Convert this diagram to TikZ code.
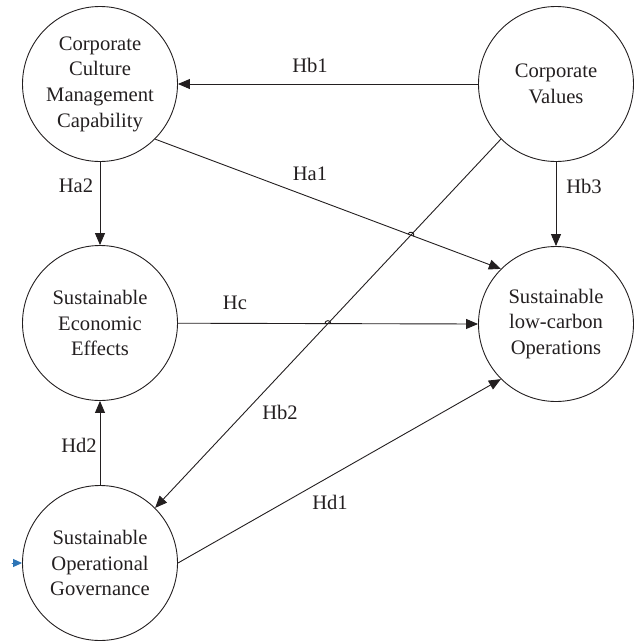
\documentclass[tikz,border=0pt]{standalone}
\usepackage{fontspec}
\setmainfont{Liberation Serif}
\usepackage{tikz}
\usetikzlibrary{arrows.meta}
\usetikzlibrary{intersections}
\definecolor{inkblack}{RGB}{35,31,32}
\definecolor{markblue}{RGB}{46,117,182}

\begin{document}
\begin{tikzpicture}[line cap=round,line join=round,>={Triangle[length=12pt,width=10pt]},x=1pt,y=1pt,
  construct/.style={circle,draw=inkblack,line width=0.9pt,minimum size=155pt,inner sep=0pt,align=center,
    font=\fontsize{20.6}{25.7}\selectfont,text=inkblack},
  hyp/.style={font=\fontsize{20.6}{24}\selectfont,text=inkblack,inner sep=0pt},
  link/.style={->,draw=inkblack,line width=0.9pt}]
\useasboundingbox (0,0) rectangle (635,-641);
\node[construct] (ccmc) at (100,-84) {Corporate\\Culture\\Management\\Capability};
\node[construct] (values) at (556,-84) {Corporate\\Values};
\node[construct] (econ) at (100,-323) {Sustainable\\Economic\\Effects};
\node[construct] (lowcarbon) at (556,-324) {Sustainable\\low-carbon\\Operations};
\node[construct] (govern) at (100,-563) {Sustainable\\Operational\\Governance};
\coordinate (ext) at (12,-563);
% paths
\draw[link] (values) -- (ccmc);
\draw[link,name path=pha1] (ccmc.-45) -- (lowcarbon.135);
\draw[link] (ccmc) -- (econ);
\draw[link] (values) -- (lowcarbon);
\draw[link,name path=phc] (econ) -- (lowcarbon.west);
\draw[link,name path=phb2] (values.-135) -- (govern.45);
\draw[link] (govern) -- (econ);
\draw[link] (govern.east) -- (lowcarbon.-135);
\draw[->,draw=markblue,line width=0.9pt,>={Triangle[length=9pt,width=8pt]}] (ext) -- (govern.west);
% hops
\path[name intersections={of=pha1 and phb2,by=xa}];
\path[name intersections={of=phc and phb2,by=xc}];
\draw[inkblack,line width=0.9pt] (xa) ++(160:3) arc (160:-20:3);
\draw[inkblack,line width=0.9pt] (xc) ++(180:3) arc (180:0:3);
% labels
\node[hyp] (lhb1) at (310,-65) {Hb1};
\node[hyp] (lha1) at (310,-174) {Ha1};
\node[hyp] (lha2) at (76,-186) {Ha2};
\node[hyp] (lhb3) at (584,-186) {Hb3};
\node[hyp] (lhc) at (235,-303) {Hc};
\node[hyp] (lhb2) at (280,-412) {Hb2};
\node[hyp] (lhd2) at (79,-445) {Hd2};
\node[hyp] (lhd1) at (330,-502) {Hd1};
\end{tikzpicture}
\end{document}
